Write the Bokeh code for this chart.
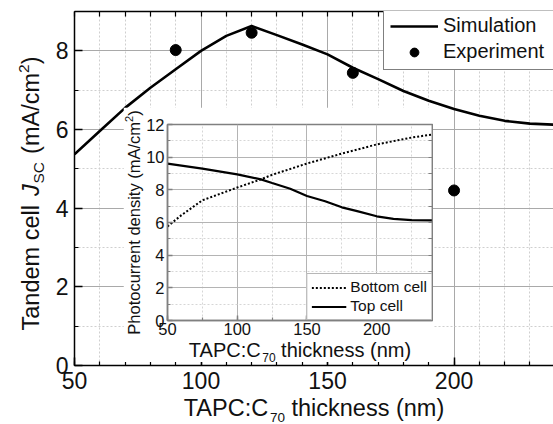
import math
from bokeh.plotting import figure
from bokeh.models import (Range1d, LinearAxis, SingleIntervalTicker, FixedTicker,
                          Legend, LegendItem)
from bokeh.core.properties import value
from bokeh.embed import file_html
from bokeh.resources import INLINE

FONT = "Liberation Sans"
TXT = "#111111"

# ---------------- data ----------------
sim_x = [50, 60, 70, 80, 90, 100, 110, 120, 130, 140, 150, 160, 170, 180,
         190, 200, 210, 220, 230, 240]
sim_y = [5.37, 5.96, 6.55, 7.06, 7.53, 8.00, 8.38, 8.63, 8.40, 8.16, 7.91,
         7.57, 7.28, 6.98, 6.73, 6.52, 6.35, 6.22, 6.15, 6.12]

exp_x = [90, 120, 160, 200]
exp_y = [8.02, 8.46, 7.44, 4.45]

top_x = [50, 75, 100, 117, 125, 138, 150, 163, 175, 186, 200, 212, 225, 240]
top_y = [9.61, 9.30, 8.95, 8.64, 8.42, 8.07, 7.62, 7.30, 6.93, 6.70, 6.38,
         6.22, 6.15, 6.13]

bot_x = [50, 60, 75, 100, 117, 125, 150, 175, 200, 225, 240]
bot_y = [5.76, 6.45, 7.36, 8.14, 8.64, 8.92, 9.61, 10.22, 10.78, 11.20, 11.39]

# ---------------- geometry (page pixels) ----------------
PAGE = 8
W, H = 545, 408
ML, MT, MB, MR = 66, 3, 51, 0
X0, X1 = 50, 239.3
Y0, Y1 = 0, 9
FL = PAGE + ML
FT = PAGE + MT
FB = PAGE + H - MB
FW = W - ML - MR

ARIAL = {'T': 611, 'a': 556, 'n': 556, 'd': 556, 'e': 556, 'm': 833, ' ': 278,
         'c': 500, 'l': 222, 'J': 500, 'S': 667, 'C': 722, '(': 333, ')': 333,
         'A': 667, '/': 278, '2': 556, 'P': 667, ':': 278, '7': 556, '0': 556,
         't': 278, 'h': 556, 'i': 222, 'k': 500, 's': 500, 'o': 556, 'u': 556,
         'r': 333, 'y': 500}

def tw(s, size):
    return sum(ARIAL.get(ch, 556) for ch in s) * size / 1000.0

def style_axis(ax, color, major_in, minor_in, width):
    ax.axis_line_color = color
    ax.axis_line_width = width
    ax.major_tick_in = major_in
    ax.major_tick_out = 0
    ax.minor_tick_in = minor_in
    ax.minor_tick_out = 0
    ax.major_tick_line_color = color
    ax.minor_tick_line_color = color
    ax.major_tick_line_width = width
    ax.minor_tick_line_width = width * 0.8

# ---------------- main figure ----------------
p = figure(width=W, height=H, x_range=Range1d(X0, X1), y_range=Range1d(Y0, Y1),
           output_backend="svg", toolbar_location=None,
           min_border_left=ML, min_border_right=MR, min_border_top=MT,
           min_border_bottom=MB)
p.outline_line_color = None
p.background_fill_color = "white"
p.border_fill_color = "white"

p.xaxis.ticker = SingleIntervalTicker(interval=50, num_minor_ticks=5)
p.yaxis.ticker = SingleIntervalTicker(interval=2, num_minor_ticks=2)
for ax in (p.xaxis[0], p.yaxis[0]):
    style_axis(ax, "black", 8, 4, 1.5)
    ax.major_label_text_font = FONT
    ax.major_label_text_font_size = "23px"
    ax.major_label_text_color = TXT
p.xaxis.major_label_standoff = 6
p.yaxis.major_label_standoff = 6

top_ax = LinearAxis(ticker=FixedTicker(ticks=[], minor_ticks=list(range(50, 240, 10))))
style_axis(top_ax, "black", 8, 5, 1.5)
p.add_layout(top_ax, "above")

for g in (p.xgrid[0], p.ygrid[0]):
    g.grid_line_color = "#a9a9a9"
    g.grid_line_width = 1
    g.minor_grid_line_color = "#cfcfcf"
    g.minor_grid_line_dash = "2 2"
    g.minor_grid_line_width = 1

sim_r = p.line(sim_x, sim_y, line_width=2.6, line_color="black")
exp_r = p.scatter(exp_x, exp_y, marker="circle", size=11, color="black")

LEG_H = 6 * 2 + 22 * 2 + 3
leg = Legend(items=[LegendItem(label="Simulation", renderers=[sim_r]),
                    LegendItem(label="Experiment", renderers=[exp_r])],
             location=(383 - FL, FB - (FT + LEG_H)), margin=0, padding=6, spacing=3,
             label_height=22, glyph_height=22, glyph_width=48, label_standoff=5,
             label_width=118,
             label_text_font=FONT, label_text_font_size="20px", label_text_color=TXT,
             border_line_color="black", border_line_width=1.2,
             background_fill_color="white", background_fill_alpha=1)
p.add_layout(leg)
p.styles = {"position": "absolute", "left": f"{PAGE}px", "top": f"{PAGE}px"}

# ---------------- inset ----------------
IW, IH = 310, 255
IL, IT, IR, IB = 44, 17, 1, 42
ILEFT, ITOP = 123, 107          # inset canvas position on the page
IFL = ILEFT + IL
IFT = ITOP + IT
IFB = ITOP + IH - IB
IFW = IW - IL - IR

ins = figure(width=IW, height=IH, x_range=Range1d(50, 240), y_range=Range1d(0, 12),
             output_backend="svg", toolbar_location=None,
             min_border_left=IL, min_border_right=IR, min_border_top=IT,
             min_border_bottom=IB)
ins.outline_line_color = "#808080"
ins.outline_line_width = 1.5
ins.background_fill_color = "white"
ins.border_fill_color = "white"
ins.xaxis.ticker = SingleIntervalTicker(interval=50, num_minor_ticks=2)
ins.yaxis.ticker = SingleIntervalTicker(interval=2, num_minor_ticks=2)
for ax in (ins.xaxis[0], ins.yaxis[0]):
    style_axis(ax, "#808080", 5, 3, 1.5)
    ax.major_label_text_font = FONT
    ax.major_label_text_font_size = "16.5px"
    ax.major_label_text_color = TXT
ins.xaxis.major_label_standoff = 2
ins.yaxis.major_label_standoff = 3
r_ax = LinearAxis(ticker=FixedTicker(ticks=[], minor_ticks=list(range(0, 13))))
style_axis(r_ax, "#808080", 5, 4, 1.5)
ins.add_layout(r_ax, "right")
for g in (ins.xgrid[0], ins.ygrid[0]):
    g.grid_line_color = "#b4b4b4"
    g.grid_line_width = 1
    g.minor_grid_line_color = "#d6d6d6"
    g.minor_grid_line_dash = "2 2"

bot_r = ins.line(bot_x, bot_y, line_width=2, line_color="black", line_dash="2 2")
top_r = ins.line(top_x, top_y, line_width=2.2, line_color="black")

ileg = Legend(items=[LegendItem(label="Bottom cell", renderers=[bot_r]),
                     LegendItem(label="Top cell", renderers=[top_r])],
              location="bottom_right", margin=0, padding=4, spacing=1,
              label_height=17, glyph_height=17, glyph_width=35, label_standoff=4,
              label_text_font=FONT, label_text_font_size="15.5px", label_text_color=TXT,
              border_line_color="#707070", border_line_width=1,
              background_fill_color="white", background_fill_alpha=1)
ins.add_layout(ileg)
ins.styles = {"position": "absolute", "left": f"{ILEFT}px", "top": f"{ITOP}px",
              "z-index": "10"}

# ---------------- text overlay (axis titles with sub/superscripts) ----------------
OH = 416   # reaches the bottom of the 424px window exactly
ov = figure(width=W, height=OH, x_range=Range1d(0, W), y_range=Range1d(0, OH),
            output_backend="svg", toolbar_location=None,
            x_axis_location=None, y_axis_location=None,
            min_border=0, min_border_left=0, min_border_right=0,
            min_border_top=0, min_border_bottom=0)
ov.grid.visible = False
ov.outline_line_color = None
ov.background_fill_color = None
ov.border_fill_color = None
ov.styles = {"position": "absolute", "left": f"{PAGE}px", "top": f"{PAGE}px",
             "z-index": "20", "pointer-events": "none"}

def otext(px, py, s, size, angle=0.0, style="normal", baseline="middle"):
    ov.text(x=[px - PAGE], y=[PAGE + OH - py], text=[s], angle=angle,
            text_align="left", text_baseline=baseline,
            text_font=value(FONT), text_font_size=value(f"{size}px"),
            text_font_style=value(style), text_color=TXT)

SP = 0.278  # width of a space in em

def run_vertical(pieces, cx, cy):
    total = sum(tw(s, f) + g * f for s, f, _, _, g in pieces)
    py = cy + total / 2
    for s, f, st, dx, g in pieces:
        otext(cx + dx, py, s, f, angle=math.pi / 2, style=st)
        py -= tw(s, f) + g * f

def run_horizontal(pieces, cx, base):
    total = sum(tw(s, f) + g * f for s, f, _, g in pieces)
    px = cx - total / 2
    for s, f, dy, g in pieces:
        # alphabetic baseline renders ~0.3em low; compensate
        otext(px, base + dy - 0.3 * f, s, f, baseline="alphabetic")
        px += tw(s, f) + g * f

# main y title: Tandem cell J_SC (mA/cm^2)
run_vertical([("Tandem cell", 23.5, "normal", 0, SP), ("J", 23.5, "italic", 0, 0.03),
              ("SC", 15.5, "normal", 8, SP * 23.5 / 15.5 + 0.1),
              ("(mA/cm", 23.5, "normal", 0, 0), ("2", 15.5, "normal", -7, 0),
              (")", 23.5, "normal", 0, 0)], 30, 193)

# main x title: TAPC:C70 thickness (nm)
run_horizontal([("TAPC:C", 23.5, 0, 0), ("70", 13.5, 6, SP * 23.5 / 13.5),
                ("thickness (nm)", 23.5, 0, 0)], FL + FW / 2, 415)

# inset y title
run_vertical([("Photocurrent density (mA/cm", 16.5, "normal", 0, 0),
              ("2", 11, "normal", -5, 0), (")", 16.5, "normal", 0, 0)],
             133, (IFT + IFB) / 2)

# inset x title
run_horizontal([("TAPC:C", 20, 0, 0), ("70", 12, 6, SP * 20 / 12),
                ("thickness (nm)", 20, 0, 0)], IFL + IFW / 2, 355)

open("out.html", "w").write(file_html([p, ins, ov], INLINE))
